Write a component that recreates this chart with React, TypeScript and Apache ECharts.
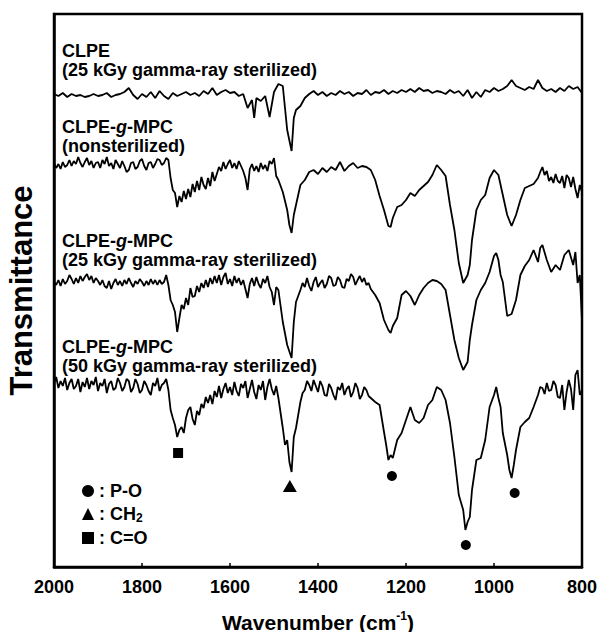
import React, { useEffect, useRef } from "react";
import * as echarts from "echarts";

// Wavenumber (cm-1) vs. transmittance (arbitrary units, stacked spectra)
const clpe25: [number, number][] = [
  [2000, 473], [1990, 471], [1980, 474], [1970, 470], [1960, 473], [1950, 471], [1940, 472], [1930, 470],
  [1920, 471], [1910, 473], [1900, 471], [1890, 472], [1880, 474], [1870, 470], [1860, 472], [1850, 473],
  [1840, 475], [1830, 479], [1820, 472], [1810, 468], [1800, 473], [1790, 470], [1780, 475], [1770, 469],
  [1760, 476], [1750, 471], [1740, 468], [1730, 474], [1720, 471], [1710, 473], [1700, 475], [1690, 472],
  [1680, 474], [1670, 471], [1660, 476], [1650, 473], [1640, 479], [1630, 472], [1620, 475], [1610, 477],
  [1600, 474], [1590, 475], [1580, 471], [1570, 473], [1560, 459], [1550, 467], [1545, 449], [1540, 469],
  [1530, 466], [1520, 471], [1510, 450], [1500, 475], [1490, 483], [1480, 481], [1475, 459], [1470, 437],
  [1460, 416], [1455, 449], [1450, 457], [1440, 461], [1430, 469], [1420, 473], [1410, 476], [1400, 472],
  [1390, 475], [1380, 471], [1370, 474], [1360, 472], [1350, 476], [1340, 473], [1330, 475], [1320, 471],
  [1310, 474], [1300, 473], [1290, 477], [1280, 472], [1270, 475], [1260, 474], [1250, 477], [1240, 473],
  [1230, 476], [1220, 474], [1210, 477], [1200, 475], [1190, 478], [1180, 475], [1170, 479], [1160, 476],
  [1150, 477], [1140, 474], [1130, 476], [1120, 475], [1110, 473], [1100, 477], [1090, 474], [1080, 476],
  [1070, 471], [1060, 477], [1050, 469], [1040, 475], [1030, 470], [1020, 477], [1010, 475], [1000, 479],
  [990, 476], [980, 478], [970, 481], [960, 487], [950, 481], [940, 479], [930, 477], [920, 480],
  [910, 478], [900, 487], [890, 479], [880, 476], [870, 478], [860, 475], [850, 479], [840, 476],
  [830, 481], [820, 478], [810, 480], [800, 474],
];

const mpcNonsterilized: [number, number][] = [
  [2000, 404], [1995, 399], [1990, 403], [1985, 398], [1980, 405], [1975, 400], [1970, 402], [1965, 407],
  [1960, 401], [1955, 406], [1950, 403], [1945, 410], [1940, 404], [1935, 400], [1930, 405], [1925, 409],
  [1920, 402], [1915, 406], [1910, 399], [1905, 404], [1900, 405], [1895, 399], [1890, 407], [1885, 403],
  [1880, 410], [1875, 401], [1870, 404], [1865, 398], [1860, 407], [1855, 403], [1850, 399], [1845, 406],
  [1840, 401], [1835, 395], [1830, 397], [1825, 404], [1820, 405], [1815, 398], [1810, 400], [1805, 406],
  [1800, 408], [1795, 401], [1790, 397], [1785, 404], [1780, 405], [1775, 399], [1770, 403], [1765, 408],
  [1760, 407], [1755, 402], [1750, 404], [1745, 409], [1740, 407], [1735, 389], [1730, 377], [1725, 374],
  [1720, 360], [1715, 371], [1710, 365], [1705, 376], [1700, 368], [1695, 378], [1690, 370], [1685, 383],
  [1680, 375], [1675, 386], [1670, 377], [1665, 390], [1660, 382], [1655, 378], [1650, 389], [1645, 381],
  [1640, 395], [1635, 386], [1630, 393], [1625, 400], [1620, 396], [1615, 405], [1610, 398], [1605, 403],
  [1600, 407], [1595, 399], [1590, 404], [1585, 398], [1580, 406], [1575, 401], [1570, 396], [1565, 389],
  [1560, 377], [1555, 398], [1550, 403], [1545, 396], [1540, 401], [1535, 395], [1530, 404], [1525, 398],
  [1520, 402], [1515, 396], [1510, 406], [1505, 403], [1500, 409], [1495, 391], [1490, 387], [1480, 375],
  [1470, 357], [1465, 342], [1460, 334], [1455, 352], [1450, 362], [1440, 382], [1430, 387], [1420, 395],
  [1410, 397], [1400, 393], [1390, 399], [1380, 395], [1370, 400], [1360, 397], [1350, 405], [1340, 396],
  [1330, 401], [1320, 404], [1310, 399], [1300, 401], [1290, 400], [1280, 397], [1270, 387], [1260, 371],
  [1250, 357], [1240, 341], [1235, 340], [1230, 349], [1220, 360], [1210, 362], [1200, 367], [1190, 374],
  [1180, 371], [1170, 377], [1160, 381], [1150, 385], [1140, 392], [1130, 402], [1120, 397], [1110, 391],
  [1100, 362], [1090, 337], [1080, 304], [1070, 284], [1060, 292], [1055, 302], [1050, 327], [1040, 357],
  [1030, 367], [1020, 372], [1010, 389], [1000, 397], [990, 392], [980, 372], [970, 352], [960, 341],
  [950, 352], [940, 367], [930, 379], [920, 381], [910, 383], [900, 389], [895, 395], [890, 400],
  [885, 392], [880, 396], [875, 386], [870, 390], [865, 384], [860, 393], [855, 386], [850, 384],
  [845, 391], [840, 379], [835, 392], [830, 389], [825, 380], [820, 390], [815, 378], [810, 369],
  [805, 382], [800, 375],
];

const mpc25: [number, number][] = [
  [2000, 285], [1995, 282], [1990, 287], [1985, 281], [1980, 288], [1975, 283], [1970, 286], [1965, 292],
  [1960, 288], [1955, 283], [1950, 289], [1945, 284], [1940, 291], [1935, 286], [1930, 290], [1925, 293],
  [1920, 287], [1915, 291], [1910, 284], [1905, 289], [1900, 286], [1895, 282], [1890, 287], [1885, 281],
  [1880, 279], [1875, 286], [1870, 278], [1865, 284], [1860, 288], [1855, 282], [1850, 286], [1845, 281],
  [1840, 287], [1835, 283], [1830, 289], [1825, 284], [1820, 280], [1815, 286], [1810, 283], [1805, 288],
  [1800, 285], [1795, 281], [1790, 286], [1785, 282], [1780, 288], [1775, 283], [1770, 287], [1765, 282],
  [1760, 287], [1755, 283], [1750, 285], [1745, 292], [1740, 282], [1735, 267], [1730, 262], [1725, 255],
  [1720, 235], [1715, 249], [1710, 262], [1705, 258], [1700, 269], [1695, 262], [1690, 279], [1685, 270],
  [1680, 271], [1675, 281], [1670, 275], [1665, 284], [1660, 279], [1655, 287], [1650, 280], [1645, 289],
  [1640, 283], [1635, 291], [1630, 284], [1625, 292], [1620, 282], [1615, 290], [1610, 294], [1605, 283],
  [1600, 288], [1595, 281], [1590, 291], [1585, 284], [1580, 289], [1575, 282], [1570, 287], [1565, 278],
  [1560, 269], [1555, 283], [1550, 289], [1545, 281], [1540, 290], [1535, 283], [1530, 279], [1525, 288],
  [1520, 284], [1515, 291], [1510, 280], [1505, 275], [1500, 262], [1495, 280], [1490, 277], [1480, 245],
  [1470, 222], [1460, 209], [1455, 245], [1450, 265], [1440, 277], [1435, 284], [1430, 280], [1425, 289],
  [1420, 281], [1415, 276], [1410, 285], [1405, 290], [1400, 280], [1395, 284], [1390, 287], [1385, 279],
  [1380, 283], [1375, 291], [1370, 289], [1365, 281], [1360, 282], [1355, 290], [1350, 287], [1345, 280],
  [1340, 279], [1335, 288], [1330, 286], [1325, 293], [1320, 290], [1315, 282], [1310, 287], [1305, 291],
  [1300, 285], [1295, 289], [1290, 282], [1285, 284], [1280, 278], [1270, 272], [1260, 264], [1250, 247],
  [1240, 237], [1235, 234], [1230, 241], [1220, 249], [1210, 272], [1200, 276], [1190, 271], [1180, 262],
  [1170, 272], [1160, 279], [1150, 284], [1140, 287], [1130, 286], [1120, 283], [1110, 277], [1100, 252],
  [1090, 227], [1080, 209], [1070, 197], [1060, 205], [1055, 227], [1050, 242], [1040, 267], [1030, 277],
  [1020, 284], [1010, 295], [1000, 311], [995, 314], [990, 307], [985, 292], [980, 285], [970, 251],
  [960, 253], [950, 267], [940, 292], [930, 301], [920, 307], [910, 317], [900, 305], [895, 319],
  [890, 322], [880, 307], [870, 295], [860, 302], [850, 297], [840, 312], [830, 317], [820, 302],
  [815, 315], [810, 284], [805, 292], [800, 247],
];

const mpc50: [number, number][] = [
  [2000, 184], [1995, 190], [1990, 179], [1985, 186], [1980, 181], [1975, 189], [1970, 177], [1965, 184],
  [1960, 188], [1955, 178], [1950, 181], [1945, 188], [1940, 175], [1935, 185], [1930, 180], [1925, 189],
  [1920, 178], [1915, 186], [1910, 182], [1905, 190], [1900, 176], [1895, 184], [1890, 181], [1885, 188],
  [1880, 174], [1875, 183], [1870, 186], [1865, 177], [1860, 179], [1855, 189], [1850, 184], [1845, 176],
  [1840, 180], [1835, 188], [1830, 186], [1825, 175], [1820, 179], [1815, 188], [1810, 183], [1805, 174],
  [1800, 177], [1795, 186], [1790, 182], [1785, 176], [1780, 172], [1775, 184], [1770, 181], [1765, 189],
  [1760, 176], [1755, 182], [1750, 184], [1745, 188], [1740, 177], [1735, 157], [1730, 149], [1725, 142],
  [1720, 130], [1715, 137], [1710, 140], [1705, 134], [1700, 149], [1695, 157], [1690, 160], [1685, 148],
  [1680, 142], [1675, 156], [1670, 152], [1665, 163], [1660, 159], [1655, 170], [1650, 164], [1645, 172],
  [1640, 163], [1635, 176], [1630, 170], [1625, 181], [1620, 169], [1615, 178], [1610, 184], [1605, 174],
  [1600, 180], [1595, 172], [1590, 185], [1585, 176], [1580, 171], [1575, 183], [1570, 179], [1565, 186],
  [1560, 169], [1555, 178], [1550, 187], [1545, 175], [1540, 168], [1535, 182], [1530, 177], [1525, 186],
  [1520, 167], [1515, 180], [1510, 188], [1505, 178], [1500, 172], [1495, 181], [1490, 169], [1480, 139],
  [1475, 122], [1470, 127], [1465, 105], [1460, 95], [1455, 130], [1450, 139], [1440, 165], [1435, 174],
  [1430, 177], [1425, 186], [1420, 182], [1415, 176], [1410, 187], [1405, 181], [1400, 175], [1395, 186],
  [1390, 181], [1385, 172], [1380, 171], [1375, 183], [1370, 179], [1365, 172], [1360, 167], [1355, 180],
  [1350, 177], [1345, 184], [1340, 172], [1335, 178], [1330, 181], [1325, 170], [1320, 175], [1315, 184],
  [1310, 179], [1305, 168], [1300, 172], [1295, 180], [1290, 177], [1285, 171], [1280, 169], [1270, 165],
  [1260, 162], [1250, 135], [1245, 122], [1240, 107], [1235, 112], [1230, 109], [1220, 127], [1210, 134],
  [1200, 147], [1190, 160], [1180, 147], [1170, 144], [1160, 149], [1150, 162], [1140, 167], [1130, 180],
  [1120, 177], [1110, 167], [1100, 144], [1090, 110], [1080, 72], [1070, 57], [1065, 37], [1060, 45],
  [1055, 50], [1050, 77], [1040, 107], [1030, 109], [1020, 127], [1010, 160], [1000, 172], [995, 180],
  [990, 169], [985, 160], [980, 134], [970, 112], [965, 97], [960, 89], [955, 102], [950, 117],
  [940, 140], [930, 145], [920, 149], [910, 160], [900, 172], [895, 180], [890, 179], [885, 173],
  [880, 184], [875, 176], [870, 177], [865, 186], [860, 182], [855, 170], [850, 169], [845, 182],
  [840, 157], [835, 175], [830, 187], [825, 178], [820, 157], [815, 192], [810, 197], [805, 172],
  [800, 177],
];

// Band assignment markers
const markerPO: [number, number][] = [[1232, 91], [1064, 22], [953, 74]];
const markerCH2: [number, number][] = [[1464, 81]];
const markerCO: [number, number][] = [[1718, 114]];

const FONT = '"Liberation Sans", Arial, Helvetica, sans-serif';

export default function App() {
  const ref = useRef<HTMLDivElement>(null);
  useEffect(() => {
    const chart = echarts.init(ref.current!, null, { renderer: "svg" });
    const lineSeries = (name: string, data: [number, number][]) => ({
      name,
      type: "line",
      data,
      showSymbol: false,
      silent: true,
      lineStyle: { color: "#000", width: 1.8 },
      itemStyle: { color: "#000" },
      z: 2,
    });
    const markerSeries = (name: string, data: [number, number][], symbol: string, size: number | number[]) => ({
      name,
      type: "scatter",
      data,
      symbol,
      symbolSize: size,
      itemStyle: { color: "#000", opacity: 1 },
      silent: true,
      z: 3,
    });
    const label = (text: string, top: number) => ({
      type: "text",
      left: 62,
      top,
      style: {
        text,
        fill: "#000",
        fontFamily: FONT,
        fontSize: 18,
        fontWeight: "bold",
        lineHeight: 18.5,
        rich: {
          i: { fontStyle: "italic", fontWeight: "bold", fontSize: 18, fontFamily: FONT, lineHeight: 18.5 },
        },
      },
    });
    chart.setOption({
      animation: false,
      backgroundColor: "#fff",
      textStyle: { fontFamily: FONT, color: "#000" },
      grid: {
        left: 54,
        right: 16,
        top: 14,
        bottom: 65,
        containLabel: false,
        outerBoundsMode: "none",
        show: true,
        borderColor: "#000",
        borderWidth: 2.5,
      },
      xAxis: {
        type: "value",
        min: 800,
        max: 2000,
        interval: 200,
        inverse: true,
        name: "Wavenumber (cm{sup|-1})",
        nameLocation: "middle",
        nameGap: 43,
        nameTextStyle: {
          fontFamily: FONT,
          fontSize: 21,
          fontWeight: "bold",
          color: "#000",
          lineHeight: 24,
          rich: {
            sup: { fontSize: 12, fontWeight: "bold", fontFamily: FONT, verticalAlign: "top", lineHeight: 14 },
          },
        },
        axisLine: { show: true, lineStyle: { color: "#000", width: 2.5 } },
        axisTick: { show: true, inside: true, length: 4, lineStyle: { color: "#000", width: 1.5 } },
        axisLabel: {
          color: "#000",
          fontSize: 18,
          fontWeight: "bold",
          fontFamily: FONT,
          margin: 11,
          formatter: (v: number) => String(v),
        },
        splitLine: { show: false },
      },
      yAxis: {
        type: "value",
        min: 0,
        max: 553,
        name: "Transmittance",
        nameLocation: "middle",
        nameGap: 17,
        nameTextStyle: { fontFamily: FONT, fontSize: 31, fontWeight: "bold", color: "#000" },
        axisLine: { show: true, lineStyle: { color: "#000", width: 2.5 } },
        axisTick: { show: false },
        axisLabel: { show: false },
        splitLine: { show: false },
      },
      legend: {
        orient: "vertical",
        left: 77,
        top: 477,
        itemWidth: 12,
        itemHeight: 12,
        itemGap: 5,
        selectedMode: false,
        itemStyle: { color: "#000", opacity: 1 },
        data: [
          { name: "P-O", icon: "circle" },
          { name: "CH2", icon: "triangle" },
          { name: "C=O", icon: "rect" },
        ],
        formatter: (name: string) => (name === "CH2" ? "{n|: CH}{sub|2}" : "{n|: " + name + "}"),
        textStyle: {
          fontFamily: FONT,
          fontSize: 18,
          fontWeight: "bold",
          color: "#000",
          rich: {
            n: { fontSize: 18, fontWeight: "bold", fontFamily: FONT, color: "#000", lineHeight: 20 },
            sub: { fontSize: 12, fontWeight: "bold", fontFamily: FONT, color: "#000", verticalAlign: "bottom", lineHeight: 12 },
          },
        },
      },
      graphic: [
        label("CLPE\n(25 kGy gamma-ray sterilized)", 42),
        label("CLPE-{i|g}-MPC\n(nonsterilized)", 118),
        label("CLPE-{i|g}-MPC\n(25 kGy gamma-ray sterilized)", 232),
        label("CLPE-{i|g}-MPC\n(50 kGy gamma-ray sterilized)", 338),
      ],
      series: [
        lineSeries("CLPE (25 kGy)", clpe25),
        lineSeries("CLPE-g-MPC (nonsterilized)", mpcNonsterilized),
        lineSeries("CLPE-g-MPC (25 kGy)", mpc25),
        lineSeries("CLPE-g-MPC (50 kGy)", mpc50),
        markerSeries("P-O", markerPO, "circle", 10),
        markerSeries("CH2", markerCH2, "triangle", [14, 12]),
        markerSeries("C=O", markerCO, "rect", 10),
      ],
    });
    return () => chart.dispose();
  }, []);
  return <div ref={ref} style={{ position: "fixed", left: 0, top: 0, width: 598, height: 632 }} />;
}
